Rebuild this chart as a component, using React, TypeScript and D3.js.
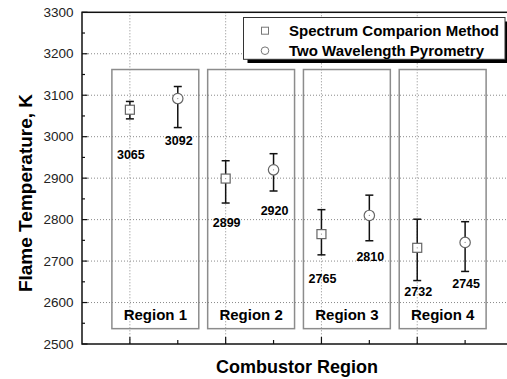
import React, { useEffect, useRef } from "react";
import * as d3 from "d3";

const regions = ["Region 1", "Region 2", "Region 3", "Region 4"];
const scmValues = [3065, 2899, 2765, 2732];
const scmUpper = [3085, 2942, 2824, 2801];
const scmLower = [3043, 2840, 2715, 2653];
const twpValues = [3092, 2920, 2810, 2745];
const twpUpper = [3121, 2959, 2859, 2795];
const twpLower = [3022, 2869, 2749, 2675];
// where each value label sits (in K)
const scmLabelAt = [2956, 2792, 2659, 2627];
const twpLabelAt = [2992, 2822, 2711, 2645];
const yTicks = [2500, 2600, 2700, 2800, 2900, 3000, 3100, 3200, 3300];
const legendLabels = ["Spectrum Comparion Method", "Two Wavelength Pyrometry"];

const FONT = "'Liberation Sans', Arial, sans-serif";

const App = () => {
  const ref = useRef<SVGSVGElement>(null);

  useEffect(() => {
    const svg = d3.select(ref.current);
    svg.selectAll("*").remove();

    const width = 507;
    const height = 379;
    const x = d3.scaleLinear().domain([0, 9]).range([82, 513]);
    const y = d3.scaleLinear().domain([2500, 3300]).range([344, 12.3]);

    svg.attr("width", width).attr("height", height).style("font-family", FONT);

    svg.append("rect").attr("width", width).attr("height", height).attr("fill", "#fff");

    // grid
    const grid = svg.append("g").attr("stroke", "#8a8a8a").attr("stroke-width", 1).attr("stroke-dasharray", "1,2");
    grid.selectAll(".hg")
      .data(yTicks.slice(1, -1))
      .enter()
      .append("line")
      .attr("x1", x(0)).attr("x2", x(9))
      .attr("y1", (d) => y(d)).attr("y2", (d) => y(d));
    grid.selectAll(".vg")
      .data([1, 3, 5, 7])
      .enter()
      .append("line")
      .attr("x1", (d) => x(d)).attr("x2", (d) => x(d))
      .attr("y1", y(3300)).attr("y2", y(2500));

    // region boxes
    const boxes = svg.append("g");
    regions.forEach((r, i) => {
      const a = x(2 * i + 1) - 18;
      const b = x(2 * i + 2) + 21;
      boxes.append("rect")
        .attr("x", a).attr("y", y(3162))
        .attr("width", b - a).attr("height", y(2537) - y(3162))
        .attr("fill", "none").attr("stroke", "#8c8c8c").attr("stroke-width", 1.5);
      boxes.append("text")
        .attr("x", (a + b) / 2).attr("y", y(2537) - 8.5)
        .attr("text-anchor", "middle")
        .attr("font-size", 15).attr("font-weight", "bold")
        .text(r);
    });

    // error bars + markers
    const series = [
      { vals: scmValues, up: scmUpper, lo: scmLower, lab: scmLabelAt, off: 1, shape: "square" },
      { vals: twpValues, up: twpUpper, lo: twpLower, lab: twpLabelAt, off: 2, shape: "circle" },
    ];
    series.forEach((s) => {
      const g = svg.append("g");
      s.vals.forEach((v, i) => {
        const cx = x(2 * i + s.off);
        g.append("line")
          .attr("x1", cx).attr("x2", cx)
          .attr("y1", y(s.up[i])).attr("y2", y(s.lo[i]))
          .attr("stroke", "#111").attr("stroke-width", 1.5);
        [s.up[i], s.lo[i]].forEach((c) => {
          g.append("line")
            .attr("x1", cx - 4).attr("x2", cx + 4)
            .attr("y1", y(c)).attr("y2", y(c))
            .attr("stroke", "#111").attr("stroke-width", 1.5);
        });
        if (s.shape === "square") {
          g.append("rect")
            .attr("x", cx - 4.5).attr("y", y(v) - 4.5)
            .attr("width", 9).attr("height", 9)
            .attr("fill", "#fff").attr("stroke", "#666").attr("stroke-width", 1.2);
        } else {
          g.append("circle")
            .attr("cx", cx).attr("cy", y(v)).attr("r", 5.2)
            .attr("fill", "#fff").attr("stroke", "#666").attr("stroke-width", 1.2);
        }
        g.append("circle").attr("cx", cx).attr("cy", y(v)).attr("r", 0.6).attr("fill", "#888");
        g.append("text")
          .attr("x", cx + 1).attr("y", y(s.lab[i]) + 4.5)
          .attr("text-anchor", "middle")
          .attr("font-size", 12.5).attr("font-weight", "bold")
          .text(v);
      });
    });

    // frame
    svg.append("rect")
      .attr("x", x(0)).attr("y", y(3300))
      .attr("width", x(9) - x(0)).attr("height", y(2500) - y(3300))
      .attr("fill", "none").attr("stroke", "#111").attr("stroke-width", 1.5);

    // y ticks (inward)
    const yAxis = svg.append("g");
    d3.range(2500, 3301, 50).forEach((t) => {
      const major = t % 100 === 0;
      yAxis.append("line")
        .attr("x1", x(0)).attr("x2", x(0) + (major ? 5.5 : 3))
        .attr("y1", y(t)).attr("y2", y(t))
        .attr("stroke", "#111").attr("stroke-width", 1.2);
    });
    yAxis.selectAll("text")
      .data(yTicks)
      .enter()
      .append("text")
      .attr("x", x(0) - 8.5)
      .attr("y", (d) => y(d) + 4.7)
      .attr("text-anchor", "end")
      .attr("font-size", 13.5)
      .attr("fill", "#222")
      .text((d) => d);

    // x ticks (inward)
    d3.range(1, 9).forEach((t) => {
      const major = t % 2 === 1;
      svg.append("line")
        .attr("x1", x(t)).attr("x2", x(t))
        .attr("y1", y(2500)).attr("y2", y(2500) - (major ? 7 : 4))
        .attr("stroke", "#111").attr("stroke-width", 1.2);
    });

    // axis titles
    svg.append("text")
      .attr("transform", "translate(31.5,193) rotate(-90)")
      .attr("text-anchor", "middle")
      .attr("font-size", 19).attr("font-weight", "bold")
      .text("Flame Temperature, K");
    svg.append("text")
      .attr("x", 297).attr("y", 373)
      .attr("text-anchor", "middle")
      .attr("font-size", 18).attr("font-weight", "bold")
      .text("Combustor Region");

    // legend
    const lg = svg.append("g");
    lg.append("rect").attr("x", 247.5).attr("y", 21.5).attr("width", 261).attr("height", 41.5).attr("fill", "#000");
    lg.append("rect").attr("x", 243.5).attr("y", 17.5).attr("width", 261.5).attr("height", 41.8)
      .attr("fill", "#fff").attr("stroke", "#333").attr("stroke-width", 1);
    lg.append("rect").attr("x", 261.5).attr("y", 27.2).attr("width", 7).attr("height", 7)
      .attr("fill", "#fff").attr("stroke", "#777").attr("stroke-width", 1);
    lg.append("circle").attr("cx", 265).attr("cy", 50.7).attr("r", 3.8)
      .attr("fill", "#fff").attr("stroke", "#777").attr("stroke-width", 1);
    lg.selectAll(".lt")
      .data(legendLabels)
      .enter()
      .append("text")
      .attr("x", 289)
      .attr("y", (d, i) => 35.5 + i * 20)
      .attr("font-size", 15).attr("font-weight", "bold")
      .text((d) => d);
  }, []);

  return <svg ref={ref} style={{ position: "absolute", left: 0, top: 0 }}></svg>;
};

export default App;
